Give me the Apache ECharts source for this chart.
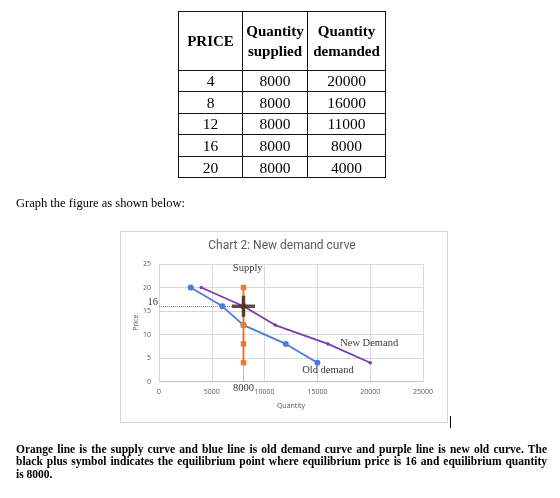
<!DOCTYPE html>
<html>
<head>
<meta charset="utf-8">
<script src="https://cdn.jsdelivr.net/npm/echarts@6/dist/echarts.min.js"></script>
<style>
  html, body { margin: 0; padding: 0; background: #fff; }
  body { width: 560px; height: 498px; position: relative; overflow: hidden; font-family: "Liberation Serif", "DejaVu Serif", serif; color: #000; }
  #chart { position: absolute; left: 0; top: 0; width: 560px; height: 498px; }
  .overlay { position: absolute; z-index: 2; }
  table.data { position: absolute; left: 178px; top: 11px; border-collapse: collapse; table-layout: fixed; z-index: 2; }
  table.data td { border: 1.5px solid #111; text-align: center; padding: 0; font-size: 15.5px; line-height: 17px; height: 20.6px; }
  table.data tr.head td { font-weight: bold; font-size: 15px; height: 57.5px; line-height: 20px; }
  #intro { left: 16px; top: 196px; font-size: 12.5px; }
  #note { left: 16px; top: 442.5px; width: 531px; font-size: 11.5px; font-weight: bold; line-height: 12.5px; }
  #note div { text-align: justify; text-align-last: justify; white-space: nowrap; }
  #note div.last { text-align-last: left; }
  #frame { position: absolute; left: 120px; top: 231px; width: 326px; height: 190px; border: 1px solid #d9d9d9; z-index: 1; }
  #cursor { position: absolute; left: 450px; top: 416px; width: 1px; height: 12px; background: #000; z-index: 2; }
</style>
</head>
<body>
<div id="frame"></div>
<div id="chart"></div>
<table class="data" id="tbl"></table>
<div class="overlay" id="intro">Graph the figure as shown below:</div>
<div class="overlay" id="note">
  <div>Orange line is the supply curve and blue line is old demand curve and purple line is new old curve. The</div>
  <div>black plus symbol indicates the equilibrium point where equilibrium price is 16 and equilibrium quantity</div>
  <div class="last">is 8000.</div>
</div>
<div id="cursor"></div>
<script>
// ---- data ----
var tableHeaders = ["PRICE", "Quantity<br>supplied", "Quantity<br>demanded"];
var prices = [4, 8, 12, 16, 20];
var quantitySupplied = [8000, 8000, 8000, 8000, 8000];
var quantityDemanded = [20000, 16000, 11000, 8000, 4000];   // new demand
var oldDemandQty = [15000, 12000, 8000, 6000, 3000];        // old demand
var eqPrice = 16;
var eqQuantity = 8000;
var xTicks = [0, 5000, 10000, 15000, 20000, 25000];
var yTicks = [0, 5, 10, 15, 20, 25];
var chartTitle = "Chart 2: New demand curve";
var labelNames = ["Supply", "New Demand", "Old demand"];
var labelAnchors = [[8400, 24.0], [19900, 8.1], [16000, 2.35]];

// ---- table ----
(function () {
  var tbl = document.getElementById('tbl');
  var widths = [64, 65, 78];
  var html = '<colgroup>' + widths.map(function (w) { return '<col style="width:' + w + 'px">'; }).join('') + '</colgroup>';
  html += '<tr class="head">' + tableHeaders.map(function (h) { return '<td>' + h + '</td>'; }).join('') + '</tr>';
  for (var i = 0; i < prices.length; i++) {
    html += '<tr><td>' + prices[i] + '</td><td>' + quantitySupplied[i] + '</td><td>' + quantityDemanded[i] + '</td></tr>';
  }
  tbl.innerHTML = html;
})();

// ---- chart ----
function pairs(xs, ys) { return xs.map(function (x, i) { return [x, ys[i]]; }); }

var chart = echarts.init(document.getElementById('chart'), null, { renderer: 'canvas' });
var serif = 'Liberation Serif';
var sans = 'Open Sans';

var annotationData = labelNames.map(function (n, i) {
  return { value: labelAnchors[i], label: { formatter: n } };
});
annotationData.push({ value: [0, eqPrice], label: { formatter: String(eqPrice), position: 'left', distance: 1, offset: [0, -4.5] } });
annotationData.push({ value: [eqQuantity, 0], label: { formatter: String(eqQuantity), position: 'bottom', distance: 1 } });

chart.setOption({
  animation: false,
  backgroundColor: 'transparent',
  graphic: [{
    type: 'text', x: 282, y: 246,
    style: { text: chartTitle, fontFamily: 'Roboto', fontSize: 12, fill: '#595959', align: 'center', verticalAlign: 'middle' }
  }],
  grid: { left: 159, top: 264, width: 264, height: 117.5, containLabel: false },
  xAxis: {
    type: 'value', min: 0, max: 25000, interval: 5000,
    name: 'Quantity', nameLocation: 'middle', nameGap: 21,
    nameTextStyle: { fontFamily: sans, fontSize: 7, color: '#595959' },
    axisLine: { show: true, lineStyle: { color: '#bfbfbf', width: 1 } },
    axisTick: { show: false },
    axisLabel: { fontFamily: sans, fontSize: 7, color: '#595959', margin: 7,
      formatter: function (v) { return xTicks.indexOf(v) >= 0 ? String(v) : ''; } },
    splitLine: { show: true, lineStyle: { color: '#d9d9d9', width: 1 } }
  },
  yAxis: {
    type: 'value', min: 0, max: 25, interval: 5,
    name: 'Price', nameLocation: 'middle', nameGap: 19, nameRotate: 90,
    nameTextStyle: { fontFamily: sans, fontSize: 7, color: '#595959' },
    axisLine: { show: false },
    axisTick: { show: false },
    axisLabel: { fontFamily: sans, fontSize: 7, color: '#595959', margin: 8,
      formatter: function (v) { return yTicks.indexOf(v) >= 0 ? String(v) : ''; } },
    splitLine: { show: true, lineStyle: { color: '#d9d9d9', width: 1 } }
  },
  series: [
    {
      name: 'Old demand', type: 'line', data: pairs(oldDemandQty, prices),
      symbol: 'circle', symbolSize: 6, showAllSymbol: true,
      lineStyle: { color: '#4a7dd8', width: 1.8 },
      itemStyle: { color: '#4a7dd8' }, z: 2
    },
    {
      name: 'New demand', type: 'line', data: pairs(quantityDemanded, prices),
      symbol: 'circle', symbolSize: 3.5,
      lineStyle: { color: '#7d3cae', width: 1.8 },
      itemStyle: { color: '#7d3cae' }, z: 3
    },
    {
      name: 'Supply', type: 'line', data: pairs(quantitySupplied, prices),
      symbol: 'rect', symbolSize: 5.5,
      lineStyle: { color: '#ed7d31', width: 2 },
      itemStyle: { color: '#ed7d31' }, z: 4
    },
    {
      name: 'Equilibrium', type: 'scatter', data: [[eqQuantity, eqPrice]],
      symbol: 'path://M9.75,0h3.5v21h-3.5z M0,8.75h23v3.5h-23z',
      symbolSize: [23, 21], symbolKeepAspect: false,
      itemStyle: { color: '#3a2218' }, z: 6,
      markLine: {
        silent: true, symbol: 'none', animation: false,
        label: { show: false },
        lineStyle: { type: 'dotted', color: '#7f7f7f', width: 1 },
        data: [
          [{ coord: [0, eqPrice] }, { coord: [eqQuantity, eqPrice] }],
          [{ coord: [eqQuantity, eqPrice] }, { coord: [eqQuantity, 0] }]
        ]
      }
    },
    {
      name: 'labels', type: 'scatter', data: annotationData,
      symbolSize: 0, clip: false, silent: true, z: 7,
      label: { show: true, position: 'inside', fontFamily: serif, fontSize: 10.5, color: '#000' }
    }
  ]
});
</script>
</body>
</html>
